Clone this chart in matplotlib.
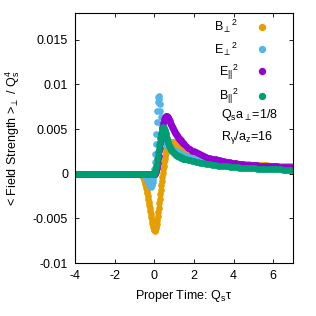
import numpy as np
import matplotlib
matplotlib.use('Agg')
import matplotlib.pyplot as plt
from matplotlib.ticker import FormatStrFormatter

plt.rcParams['font.family'] = ['Liberation Sans', 'DejaVu Sans']
plt.rcParams['mathtext.fontset'] = 'custom'
plt.rcParams['mathtext.rm'] = 'Liberation Sans'
plt.rcParams['mathtext.it'] = 'Liberation Sans'
plt.rcParams['mathtext.default'] = 'regular'
plt.rcParams['axes.unicode_minus'] = False

# Sampling times (Q_s tau): coarse before the pulse, fine around it, coarse in the tail
tau = np.round(np.concatenate([np.arange(-4.0, -0.75, 0.1),
                               np.arange(-0.75, 1.5125, 0.025),
                               np.arange(1.6, 7.05, 0.1)]), 3)

# All fields vanish before the collision (tau = -4.0 ... -0.8)
flat = [0.0, 0.0, 0.0, 0.0, 0.0, 0.0, 0.0, 0.0, 0.0, 0.0, 0.0,
        0.0, 0.0, 0.0, 0.0, 0.0, 0.0, 0.0, 0.0, 0.0, 0.0, 0.0,
        0.0, 0.0, 0.0, 0.0, 0.0, 0.0, 0.0, 0.0, 0.0, 0.0, 0.0]

# B_perp^2  (tau = -0.75 ... 1.5, step 0.025) then (1.6 ... 7.0, step 0.1)
b_perp_mid = [0.0, 0.0, 0.0, -0.00005, -0.0001, -0.00015, -0.0002, -0.0003, -0.0004, -0.00055,
              -0.0007, -0.0009, -0.0011, -0.00135, -0.0016, -0.0019, -0.0022, -0.0025, -0.0028, -0.00315,
              -0.0035, -0.00385, -0.0042, -0.00455, -0.0049, -0.0052, -0.0055, -0.00575, -0.0060, -0.0062,
              -0.0063, -0.0064, -0.0063, -0.0061, -0.0059, -0.0056, -0.0052, -0.00475, -0.0043, -0.0038,
              -0.0033, -0.0028, -0.0023, -0.0018, -0.0013, -0.00085, -0.0004, 0.00005, 0.0005, 0.0009,
              0.0013, 0.00165, 0.0020, 0.0023, 0.0026, 0.0028, 0.0030, 0.00315, 0.0033, 0.0034,
              0.0035, 0.00355, 0.0036, 0.0036, 0.0036, 0.0036, 0.0036, 0.00355, 0.0035, 0.0035,
              0.0035, 0.00345, 0.0034, 0.00335, 0.0033, 0.0033, 0.0033, 0.00325, 0.0032, 0.00315,
              0.0031, 0.00305, 0.0030, 0.0030, 0.0030, 0.00295, 0.0029, 0.00285, 0.0028, 0.0028,
              0.0028]
b_perp_tail = [0.0027, 0.0026, 0.0024, 0.0023, 0.0022,
               0.0021, 0.0020, 0.0019, 0.00185, 0.0018,
               0.00173, 0.00166, 0.0016, 0.00155, 0.0015,
               0.00146, 0.00142, 0.00138, 0.00134, 0.0013,
               0.00127, 0.00125, 0.00123, 0.0012, 0.00118,
               0.00116, 0.00114, 0.00112, 0.0011, 0.00109,
               0.00107, 0.00105, 0.00104, 0.00102, 0.00101,
               0.001, 0.00099, 0.00097, 0.00096, 0.00095,
               0.00094, 0.00093, 0.00092, 0.00091, 0.0009,
               0.00089, 0.00088, 0.00087, 0.00086, 0.00085,
               0.00084, 0.00083, 0.00082, 0.00081, 0.0008]

# E_perp^2
e_perp_mid = [0.0, 0.0, 0.0, 0.0, 0.0, 0.0, 0.0, -0.00005, -0.0001, -0.0001,
              -0.0001, -0.00015, -0.0002, -0.0003, -0.0004, -0.0005, -0.0006, -0.00075, -0.0009, -0.00105,
              -0.0012, -0.0013, -0.0014, -0.00145, -0.0014, -0.0013, -0.0012, -0.0009, -0.0006, -0.0001,
              0.0005, 0.0013, 0.0022, 0.0033, 0.0045, 0.0058, 0.0070, 0.0080, 0.0086, 0.0087,
              0.0084, 0.0078, 0.0070, 0.0063, 0.0056, 0.0051, 0.0046, 0.0043, 0.0040, 0.0038,
              0.0036, 0.0035, 0.0034, 0.00335, 0.0033, 0.00325, 0.0032, 0.00315, 0.0031, 0.00305,
              0.0030, 0.00295, 0.0029, 0.00285, 0.0028, 0.00275, 0.0027, 0.0027, 0.0027, 0.00265,
              0.0026, 0.00255, 0.0025, 0.0025, 0.0025, 0.00245, 0.0024, 0.0024, 0.0024, 0.00235,
              0.0023, 0.0023, 0.0023, 0.00225, 0.0022, 0.0022, 0.0022, 0.00215, 0.0021, 0.0021,
              0.0021]
e_perp_tail = [0.0020, 0.0019, 0.00185, 0.00178, 0.0017,
               0.00163, 0.00157, 0.0015, 0.00145, 0.0014,
               0.00136, 0.00132, 0.00128, 0.00124, 0.0012,
               0.00117, 0.00114, 0.00111, 0.00108, 0.00105,
               0.00102, 0.001, 0.00098, 0.00095, 0.00093,
               0.00091, 0.00089, 0.00087, 0.00086, 0.00084,
               0.00083, 0.00081, 0.0008, 0.00078, 0.00077,
               0.00076, 0.00075, 0.00074, 0.00073, 0.00072,
               0.00071, 0.0007, 0.00068, 0.00067, 0.00066,
               0.00065, 0.00065, 0.00064, 0.00063, 0.00063,
               0.00062, 0.00061, 0.00061, 0.0006, 0.0006]

# E_par^2
e_par_mid = [0.0, 0.0, 0.0, 0.0, 0.0, 0.0, 0.0, 0.0, 0.0, 0.0,
             0.0, 0.0, 0.0, 0.0, 0.0, 0.0, 0.0, 0.0, 0.0, 0.0,
             0.0, 0.0, 0.0, 0.0, 0.0, 0.0, 0.0, 0.0, 0.0, 0.0,
             0.0, 0.0, 0.0001, 0.0002, 0.0004, 0.0006, 0.0009, 0.0012, 0.0016, 0.0020,
             0.0025, 0.0029, 0.0034, 0.0038, 0.0043, 0.0047, 0.0051, 0.0054, 0.0057, 0.0059,
             0.0061, 0.00625, 0.0064, 0.00645, 0.0065, 0.00645, 0.0064, 0.0063, 0.0062, 0.0061,
             0.0060, 0.00585, 0.0057, 0.0056, 0.0055, 0.00535, 0.0052, 0.0051, 0.0050, 0.0049,
             0.0048, 0.0047, 0.0046, 0.0045, 0.0044, 0.0043, 0.0042, 0.00415, 0.0041, 0.0040,
             0.0039, 0.00385, 0.0038, 0.00375, 0.0037, 0.0036, 0.0035, 0.00345, 0.0034, 0.00335,
             0.0033]
e_par_tail = [0.0031, 0.0029, 0.0028, 0.0026, 0.0025,
              0.0024, 0.0023, 0.0022, 0.0021, 0.0020,
              0.0019, 0.0018, 0.0018, 0.0017, 0.0016,
              0.0016, 0.0015, 0.0015, 0.0014, 0.0014,
              0.00136, 0.00132, 0.00128, 0.00124, 0.0012,
              0.00117, 0.00114, 0.00111, 0.00108, 0.00105,
              0.00103, 0.00101, 0.00099, 0.00098, 0.00097,
              0.00095, 0.00094, 0.00092, 0.00091, 0.0009,
              0.00088, 0.00087, 0.00086, 0.00084, 0.00083,
              0.00082, 0.00081, 0.0008, 0.00079, 0.00078,
              0.00077, 0.00076, 0.00075, 0.00074, 0.00073]

# B_par^2
b_par_mid = [0.0, 0.0, 0.0, 0.0, 0.0, 0.0, 0.0, 0.0, 0.0, 0.0,
             0.0, 0.0, 0.0, 0.0, 0.0, 0.0, 0.0, 0.0, 0.0, 0.0,
             0.0, 0.0, 0.0, 0.0, 0.0, 0.0, 0.0, 0.0, 0.0, 0.0,
             0.0001, 0.0002, 0.0004, 0.0006, 0.0009, 0.0012, 0.0016, 0.0020, 0.0024, 0.0028,
             0.0032, 0.0036, 0.0040, 0.0043, 0.0046, 0.0048, 0.0050, 0.0051, 0.0052, 0.00515,
             0.0051, 0.00495, 0.0048, 0.00455, 0.0043, 0.00405, 0.0038, 0.0036, 0.0034, 0.00325,
             0.0031, 0.0030, 0.0029, 0.0028, 0.0027, 0.0026, 0.0025, 0.00245, 0.0024, 0.00235,
             0.0023, 0.00225, 0.0022, 0.00215, 0.0021, 0.00205, 0.0020, 0.0020, 0.0020, 0.00195,
             0.0019, 0.0019, 0.0019, 0.00185, 0.0018, 0.0018, 0.0018, 0.00175, 0.0017, 0.0017,
             0.0017]
b_par_tail = [0.00164, 0.00158, 0.00152, 0.00146, 0.0014,
              0.00135, 0.0013, 0.00125, 0.0012, 0.00115,
              0.00111, 0.00108, 0.00104, 0.00101, 0.00098,
              0.00095, 0.00092, 0.0009, 0.00087, 0.00085,
              0.00083, 0.00081, 0.00079, 0.00076, 0.00074,
              0.00072, 0.00071, 0.00069, 0.00068, 0.00066,
              0.00065, 0.00064, 0.00062, 0.00061, 0.0006,
              0.00059, 0.00058, 0.00057, 0.00056, 0.00055,
              0.00054, 0.00053, 0.00052, 0.00051, 0.0005,
              0.0005, 0.00049, 0.00048, 0.00048, 0.00047,
              0.00046, 0.00046, 0.00045, 0.00045, 0.00044]

series = [
    ("B$_{\\perp}$$^{2}$", flat + b_perp_mid + b_perp_tail, '#E69F00'),
    ("E$_{\\perp}$$^{2}$", flat + e_perp_mid + e_perp_tail, '#56B4E9'),
    ("E$_{||}$$^{2}$", flat + e_par_mid + e_par_tail, '#9400D3'),
    ("B$_{||}$$^{2}$", flat + b_par_mid + b_par_tail, '#009E73'),
]

fig = plt.figure(figsize=(3.16, 3.16), dpi=100)
ax = fig.add_axes([75/316, 53/316, 218/316, 250/316])

for label, vals, color in series:
    ax.plot(tau, vals, 'o', ms=4.8, mec='none', color=color, label=label)

ax.set_xlim(-4, 7)
ax.set_ylim(-0.01, 0.018)
ax.set_xticks([-4, -2, 0, 2, 4, 6])
ax.set_yticks([-0.01, -0.005, 0, 0.005, 0.01, 0.015])
ax.yaxis.set_major_formatter(FormatStrFormatter('%g'))
ax.tick_params(direction='in', top=True, right=True, length=3, width=0.6,
               labelsize=9, pad=5)
for sp in ax.spines.values():
    sp.set_linewidth(0.8)

ax.set_xlabel("Proper Time: Q$_{s}$τ", size=9)
ax.set_ylabel("< Field Strength >$_{\\perp}$ / Q$_{s}^{4}$", size=9)
ax.yaxis.set_label_coords(-0.245, 0.5)

ax.legend(loc='upper right', bbox_to_anchor=(0.9, 1.0), frameon=False,
          markerfirst=False, fontsize=9, handlelength=0.6, handletextpad=1.6,
          labelspacing=0.4, markerscale=1.1, borderaxespad=0)
ax.text(0.67, 0.592, "Q$_{s}$a$_{\\perp}$=1/8", transform=ax.transAxes,
        size=9, va='center', ha='left')
ax.text(0.67, 0.504, "R$_{\\gamma}$/a$_{z}$=16", transform=ax.transAxes,
        size=9, va='center', ha='left')

fig.savefig('out.png', dpi=100)
